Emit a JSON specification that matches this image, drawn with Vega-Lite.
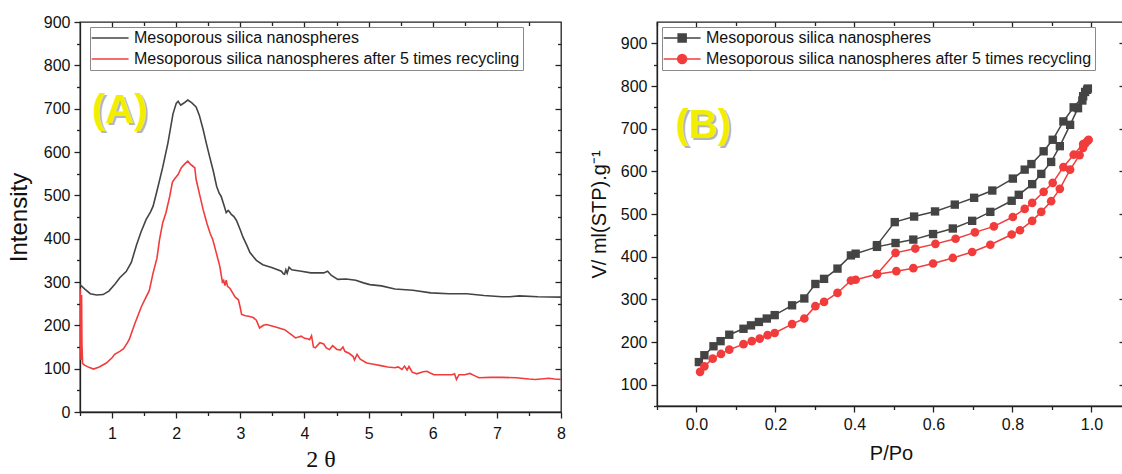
{
  "$schema": "https://vega.github.io/schema/vega-lite/v6.json",
  "padding": {"left": 6, "top": 13, "right": 0, "bottom": 0},
  "background": "white",
  "config": {
    "font": "Liberation Sans",
    "view": {"stroke": "#222", "strokeWidth": 1.3},
    "axis": {"domainColor": "#222", "tickColor": "#222", "labelColor": "#111", "titleColor": "#111", "labelFont": "Liberation Sans", "labelFontSize": 16, "titleFontWeight": "normal", "grid": false, "domainWidth": 1.3, "tickWidth": 1.3, "labelFlush": false, "labelOverlap": false}
  },
  "resolve": {"scale": {"color": "independent"}, "legend": {"color": "independent"}},
  "datasets": {
    "xrd": [
      {"s":"Mesoporous silica nanospheres","t":0.5,"i":294},{"s":"Mesoporous silica nanospheres","t":0.58,"i":283},{"s":"Mesoporous silica nanospheres","t":0.66,"i":273},{"s":"Mesoporous silica nanospheres","t":0.76,"i":270},{"s":"Mesoporous silica nanospheres","t":0.86,"i":271},{"s":"Mesoporous silica nanospheres","t":0.95,"i":279},{"s":"Mesoporous silica nanospheres","t":1.05,"i":296},{"s":"Mesoporous silica nanospheres","t":1.12,"i":310},{"s":"Mesoporous silica nanospheres","t":1.22,"i":324},{"s":"Mesoporous silica nanospheres","t":1.3,"i":345},{"s":"Mesoporous silica nanospheres","t":1.38,"i":385},{"s":"Mesoporous silica nanospheres","t":1.45,"i":415},{"s":"Mesoporous silica nanospheres","t":1.53,"i":444},{"s":"Mesoporous silica nanospheres","t":1.6,"i":462},{"s":"Mesoporous silica nanospheres","t":1.64,"i":475},{"s":"Mesoporous silica nanospheres","t":1.7,"i":510},{"s":"Mesoporous silica nanospheres","t":1.79,"i":565},{"s":"Mesoporous silica nanospheres","t":1.87,"i":620},{"s":"Mesoporous silica nanospheres","t":1.95,"i":688},{"s":"Mesoporous silica nanospheres","t":2.0,"i":712},{"s":"Mesoporous silica nanospheres","t":2.03,"i":717},{"s":"Mesoporous silica nanospheres","t":2.07,"i":708},{"s":"Mesoporous silica nanospheres","t":2.12,"i":713},{"s":"Mesoporous silica nanospheres","t":2.18,"i":720},{"s":"Mesoporous silica nanospheres","t":2.24,"i":714},{"s":"Mesoporous silica nanospheres","t":2.31,"i":704},{"s":"Mesoporous silica nanospheres","t":2.36,"i":685},{"s":"Mesoporous silica nanospheres","t":2.42,"i":652},{"s":"Mesoporous silica nanospheres","t":2.47,"i":620},{"s":"Mesoporous silica nanospheres","t":2.52,"i":590},{"s":"Mesoporous silica nanospheres","t":2.58,"i":555},{"s":"Mesoporous silica nanospheres","t":2.63,"i":521},{"s":"Mesoporous silica nanospheres","t":2.67,"i":505},{"s":"Mesoporous silica nanospheres","t":2.7,"i":498},{"s":"Mesoporous silica nanospheres","t":2.75,"i":475},{"s":"Mesoporous silica nanospheres","t":2.78,"i":460},{"s":"Mesoporous silica nanospheres","t":2.81,"i":465},{"s":"Mesoporous silica nanospheres","t":2.83,"i":462},{"s":"Mesoporous silica nanospheres","t":2.86,"i":456},{"s":"Mesoporous silica nanospheres","t":2.9,"i":451},{"s":"Mesoporous silica nanospheres","t":2.94,"i":442},{"s":"Mesoporous silica nanospheres","t":3.0,"i":420},{"s":"Mesoporous silica nanospheres","t":3.04,"i":404},{"s":"Mesoporous silica nanospheres","t":3.1,"i":385},{"s":"Mesoporous silica nanospheres","t":3.15,"i":368},{"s":"Mesoporous silica nanospheres","t":3.25,"i":350},{"s":"Mesoporous silica nanospheres","t":3.35,"i":340},{"s":"Mesoporous silica nanospheres","t":3.5,"i":333},{"s":"Mesoporous silica nanospheres","t":3.64,"i":325},{"s":"Mesoporous silica nanospheres","t":3.67,"i":319},{"s":"Mesoporous silica nanospheres","t":3.69,"i":318},{"s":"Mesoporous silica nanospheres","t":3.71,"i":328},{"s":"Mesoporous silica nanospheres","t":3.73,"i":320},{"s":"Mesoporous silica nanospheres","t":3.76,"i":334},{"s":"Mesoporous silica nanospheres","t":3.8,"i":328},{"s":"Mesoporous silica nanospheres","t":3.95,"i":325},{"s":"Mesoporous silica nanospheres","t":4.1,"i":321},{"s":"Mesoporous silica nanospheres","t":4.3,"i":321},{"s":"Mesoporous silica nanospheres","t":4.36,"i":325},{"s":"Mesoporous silica nanospheres","t":4.42,"i":315},{"s":"Mesoporous silica nanospheres","t":4.52,"i":306},{"s":"Mesoporous silica nanospheres","t":4.65,"i":307},{"s":"Mesoporous silica nanospheres","t":4.8,"i":304},{"s":"Mesoporous silica nanospheres","t":4.92,"i":298},{"s":"Mesoporous silica nanospheres","t":5.02,"i":294},{"s":"Mesoporous silica nanospheres","t":5.2,"i":291},{"s":"Mesoporous silica nanospheres","t":5.41,"i":284},{"s":"Mesoporous silica nanospheres","t":5.69,"i":281},{"s":"Mesoporous silica nanospheres","t":5.97,"i":275},{"s":"Mesoporous silica nanospheres","t":6.25,"i":273},{"s":"Mesoporous silica nanospheres","t":6.53,"i":273},{"s":"Mesoporous silica nanospheres","t":6.8,"i":269},{"s":"Mesoporous silica nanospheres","t":7.08,"i":266},{"s":"Mesoporous silica nanospheres","t":7.2,"i":266},{"s":"Mesoporous silica nanospheres","t":7.35,"i":268},{"s":"Mesoporous silica nanospheres","t":7.64,"i":266},{"s":"Mesoporous silica nanospheres","t":8.0,"i":265},
      {"s":"Mesoporous silica nanospheres after 5 times recycling","t":0.5,"i":285},{"s":"Mesoporous silica nanospheres after 5 times recycling","t":0.505,"i":265},{"s":"Mesoporous silica nanospheres after 5 times recycling","t":0.51,"i":180},{"s":"Mesoporous silica nanospheres after 5 times recycling","t":0.515,"i":120},{"s":"Mesoporous silica nanospheres after 5 times recycling","t":0.52,"i":200},{"s":"Mesoporous silica nanospheres after 5 times recycling","t":0.525,"i":270},{"s":"Mesoporous silica nanospheres after 5 times recycling","t":0.53,"i":160},{"s":"Mesoporous silica nanospheres after 5 times recycling","t":0.54,"i":112},{"s":"Mesoporous silica nanospheres after 5 times recycling","t":0.57,"i":108},{"s":"Mesoporous silica nanospheres after 5 times recycling","t":0.64,"i":103},{"s":"Mesoporous silica nanospheres after 5 times recycling","t":0.71,"i":99},{"s":"Mesoporous silica nanospheres after 5 times recycling","t":0.8,"i":104},{"s":"Mesoporous silica nanospheres after 5 times recycling","t":0.91,"i":113},{"s":"Mesoporous silica nanospheres after 5 times recycling","t":1.0,"i":125},{"s":"Mesoporous silica nanospheres after 5 times recycling","t":1.04,"i":133},{"s":"Mesoporous silica nanospheres after 5 times recycling","t":1.12,"i":140},{"s":"Mesoporous silica nanospheres after 5 times recycling","t":1.18,"i":146},{"s":"Mesoporous silica nanospheres after 5 times recycling","t":1.24,"i":160},{"s":"Mesoporous silica nanospheres after 5 times recycling","t":1.27,"i":168},{"s":"Mesoporous silica nanospheres after 5 times recycling","t":1.31,"i":185},{"s":"Mesoporous silica nanospheres after 5 times recycling","t":1.35,"i":202},{"s":"Mesoporous silica nanospheres after 5 times recycling","t":1.41,"i":225},{"s":"Mesoporous silica nanospheres after 5 times recycling","t":1.46,"i":244},{"s":"Mesoporous silica nanospheres after 5 times recycling","t":1.52,"i":262},{"s":"Mesoporous silica nanospheres after 5 times recycling","t":1.58,"i":280},{"s":"Mesoporous silica nanospheres after 5 times recycling","t":1.64,"i":321},{"s":"Mesoporous silica nanospheres after 5 times recycling","t":1.7,"i":355},{"s":"Mesoporous silica nanospheres after 5 times recycling","t":1.74,"i":398},{"s":"Mesoporous silica nanospheres after 5 times recycling","t":1.79,"i":437},{"s":"Mesoporous silica nanospheres after 5 times recycling","t":1.84,"i":460},{"s":"Mesoporous silica nanospheres after 5 times recycling","t":1.9,"i":498},{"s":"Mesoporous silica nanospheres after 5 times recycling","t":1.94,"i":530},{"s":"Mesoporous silica nanospheres after 5 times recycling","t":1.97,"i":537},{"s":"Mesoporous silica nanospheres after 5 times recycling","t":2.03,"i":548},{"s":"Mesoporous silica nanospheres after 5 times recycling","t":2.08,"i":564},{"s":"Mesoporous silica nanospheres after 5 times recycling","t":2.13,"i":572},{"s":"Mesoporous silica nanospheres after 5 times recycling","t":2.18,"i":579},{"s":"Mesoporous silica nanospheres after 5 times recycling","t":2.22,"i":572},{"s":"Mesoporous silica nanospheres after 5 times recycling","t":2.27,"i":566},{"s":"Mesoporous silica nanospheres after 5 times recycling","t":2.29,"i":564},{"s":"Mesoporous silica nanospheres after 5 times recycling","t":2.31,"i":537},{"s":"Mesoporous silica nanospheres after 5 times recycling","t":2.36,"i":505},{"s":"Mesoporous silica nanospheres after 5 times recycling","t":2.42,"i":467},{"s":"Mesoporous silica nanospheres after 5 times recycling","t":2.48,"i":435},{"s":"Mesoporous silica nanospheres after 5 times recycling","t":2.53,"i":412},{"s":"Mesoporous silica nanospheres after 5 times recycling","t":2.57,"i":398},{"s":"Mesoporous silica nanospheres after 5 times recycling","t":2.62,"i":370},{"s":"Mesoporous silica nanospheres after 5 times recycling","t":2.68,"i":336},{"s":"Mesoporous silica nanospheres after 5 times recycling","t":2.72,"i":300},{"s":"Mesoporous silica nanospheres after 5 times recycling","t":2.74,"i":304},{"s":"Mesoporous silica nanospheres after 5 times recycling","t":2.76,"i":292},{"s":"Mesoporous silica nanospheres after 5 times recycling","t":2.78,"i":304},{"s":"Mesoporous silica nanospheres after 5 times recycling","t":2.8,"i":290},{"s":"Mesoporous silica nanospheres after 5 times recycling","t":2.84,"i":285},{"s":"Mesoporous silica nanospheres after 5 times recycling","t":2.88,"i":275},{"s":"Mesoporous silica nanospheres after 5 times recycling","t":2.92,"i":265},{"s":"Mesoporous silica nanospheres after 5 times recycling","t":2.97,"i":259},{"s":"Mesoporous silica nanospheres after 5 times recycling","t":3.0,"i":240},{"s":"Mesoporous silica nanospheres after 5 times recycling","t":3.02,"i":225},{"s":"Mesoporous silica nanospheres after 5 times recycling","t":3.08,"i":222},{"s":"Mesoporous silica nanospheres after 5 times recycling","t":3.13,"i":221},{"s":"Mesoporous silica nanospheres after 5 times recycling","t":3.2,"i":218},{"s":"Mesoporous silica nanospheres after 5 times recycling","t":3.25,"i":212},{"s":"Mesoporous silica nanospheres after 5 times recycling","t":3.3,"i":194},{"s":"Mesoporous silica nanospheres after 5 times recycling","t":3.36,"i":200},{"s":"Mesoporous silica nanospheres after 5 times recycling","t":3.41,"i":202},{"s":"Mesoporous silica nanospheres after 5 times recycling","t":3.55,"i":196},{"s":"Mesoporous silica nanospheres after 5 times recycling","t":3.69,"i":190},{"s":"Mesoporous silica nanospheres after 5 times recycling","t":3.8,"i":178},{"s":"Mesoporous silica nanospheres after 5 times recycling","t":3.86,"i":171},{"s":"Mesoporous silica nanospheres after 5 times recycling","t":3.95,"i":175},{"s":"Mesoporous silica nanospheres after 5 times recycling","t":4.0,"i":170},{"s":"Mesoporous silica nanospheres after 5 times recycling","t":4.05,"i":169},{"s":"Mesoporous silica nanospheres after 5 times recycling","t":4.08,"i":167},{"s":"Mesoporous silica nanospheres after 5 times recycling","t":4.11,"i":176},{"s":"Mesoporous silica nanospheres after 5 times recycling","t":4.14,"i":150},{"s":"Mesoporous silica nanospheres after 5 times recycling","t":4.17,"i":148},{"s":"Mesoporous silica nanospheres after 5 times recycling","t":4.24,"i":160},{"s":"Mesoporous silica nanospheres after 5 times recycling","t":4.3,"i":157},{"s":"Mesoporous silica nanospheres after 5 times recycling","t":4.34,"i":148},{"s":"Mesoporous silica nanospheres after 5 times recycling","t":4.39,"i":144},{"s":"Mesoporous silica nanospheres after 5 times recycling","t":4.44,"i":153},{"s":"Mesoporous silica nanospheres after 5 times recycling","t":4.5,"i":145},{"s":"Mesoporous silica nanospheres after 5 times recycling","t":4.56,"i":143},{"s":"Mesoporous silica nanospheres after 5 times recycling","t":4.6,"i":150},{"s":"Mesoporous silica nanospheres after 5 times recycling","t":4.63,"i":140},{"s":"Mesoporous silica nanospheres after 5 times recycling","t":4.7,"i":135},{"s":"Mesoporous silica nanospheres after 5 times recycling","t":4.76,"i":128},{"s":"Mesoporous silica nanospheres after 5 times recycling","t":4.78,"i":120},{"s":"Mesoporous silica nanospheres after 5 times recycling","t":4.82,"i":133},{"s":"Mesoporous silica nanospheres after 5 times recycling","t":4.87,"i":122},{"s":"Mesoporous silica nanospheres after 5 times recycling","t":4.97,"i":113},{"s":"Mesoporous silica nanospheres after 5 times recycling","t":5.08,"i":110},{"s":"Mesoporous silica nanospheres after 5 times recycling","t":5.19,"i":107},{"s":"Mesoporous silica nanospheres after 5 times recycling","t":5.3,"i":104},{"s":"Mesoporous silica nanospheres after 5 times recycling","t":5.41,"i":102},{"s":"Mesoporous silica nanospheres after 5 times recycling","t":5.46,"i":104},{"s":"Mesoporous silica nanospheres after 5 times recycling","t":5.52,"i":98},{"s":"Mesoporous silica nanospheres after 5 times recycling","t":5.56,"i":106},{"s":"Mesoporous silica nanospheres after 5 times recycling","t":5.6,"i":97},{"s":"Mesoporous silica nanospheres after 5 times recycling","t":5.63,"i":105},{"s":"Mesoporous silica nanospheres after 5 times recycling","t":5.68,"i":92},{"s":"Mesoporous silica nanospheres after 5 times recycling","t":5.75,"i":88},{"s":"Mesoporous silica nanospheres after 5 times recycling","t":5.85,"i":93},{"s":"Mesoporous silica nanospheres after 5 times recycling","t":5.91,"i":94},{"s":"Mesoporous silica nanospheres after 5 times recycling","t":5.96,"i":90},{"s":"Mesoporous silica nanospheres after 5 times recycling","t":6.02,"i":86},{"s":"Mesoporous silica nanospheres after 5 times recycling","t":6.15,"i":86},{"s":"Mesoporous silica nanospheres after 5 times recycling","t":6.3,"i":86},{"s":"Mesoporous silica nanospheres after 5 times recycling","t":6.34,"i":88},{"s":"Mesoporous silica nanospheres after 5 times recycling","t":6.37,"i":75},{"s":"Mesoporous silica nanospheres after 5 times recycling","t":6.41,"i":86},{"s":"Mesoporous silica nanospheres after 5 times recycling","t":6.5,"i":86},{"s":"Mesoporous silica nanospheres after 5 times recycling","t":6.58,"i":89},{"s":"Mesoporous silica nanospheres after 5 times recycling","t":6.65,"i":84},{"s":"Mesoporous silica nanospheres after 5 times recycling","t":6.72,"i":79},{"s":"Mesoporous silica nanospheres after 5 times recycling","t":6.9,"i":80},{"s":"Mesoporous silica nanospheres after 5 times recycling","t":7.08,"i":80},{"s":"Mesoporous silica nanospheres after 5 times recycling","t":7.3,"i":79},{"s":"Mesoporous silica nanospheres after 5 times recycling","t":7.5,"i":76},{"s":"Mesoporous silica nanospheres after 5 times recycling","t":7.6,"i":75},{"s":"Mesoporous silica nanospheres after 5 times recycling","t":7.81,"i":78},{"s":"Mesoporous silica nanospheres after 5 times recycling","t":7.9,"i":76},{"s":"Mesoporous silica nanospheres after 5 times recycling","t":8.0,"i":75}
    ],
    "bet": [
      {"s":"Mesoporous silica nanospheres","k":1,"p":0.006,"v":153},{"s":"Mesoporous silica nanospheres","k":2,"p":0.02,"v":169},{"s":"Mesoporous silica nanospheres","k":3,"p":0.043,"v":190},{"s":"Mesoporous silica nanospheres","k":4,"p":0.061,"v":202},{"s":"Mesoporous silica nanospheres","k":5,"p":0.083,"v":217},{"s":"Mesoporous silica nanospheres","k":6,"p":0.119,"v":231},{"s":"Mesoporous silica nanospheres","k":7,"p":0.138,"v":239},{"s":"Mesoporous silica nanospheres","k":8,"p":0.158,"v":247},{"s":"Mesoporous silica nanospheres","k":9,"p":0.178,"v":255},{"s":"Mesoporous silica nanospheres","k":10,"p":0.198,"v":263},{"s":"Mesoporous silica nanospheres","k":11,"p":0.242,"v":286},{"s":"Mesoporous silica nanospheres","k":12,"p":0.273,"v":302},{"s":"Mesoporous silica nanospheres","k":13,"p":0.301,"v":336},{"s":"Mesoporous silica nanospheres","k":14,"p":0.323,"v":348},{"s":"Mesoporous silica nanospheres","k":15,"p":0.357,"v":372},{"s":"Mesoporous silica nanospheres","k":16,"p":0.391,"v":403},{"s":"Mesoporous silica nanospheres","k":17,"p":0.403,"v":407},{"s":"Mesoporous silica nanospheres","k":18,"p":0.457,"v":423},{"s":"Mesoporous silica nanospheres","k":19,"p":0.504,"v":432},{"s":"Mesoporous silica nanospheres","k":20,"p":0.549,"v":440},{"s":"Mesoporous silica nanospheres","k":21,"p":0.599,"v":453},{"s":"Mesoporous silica nanospheres","k":22,"p":0.649,"v":466},{"s":"Mesoporous silica nanospheres","k":23,"p":0.698,"v":484},{"s":"Mesoporous silica nanospheres","k":24,"p":0.744,"v":505},{"s":"Mesoporous silica nanospheres","k":25,"p":0.798,"v":531},{"s":"Mesoporous silica nanospheres","k":26,"p":0.816,"v":545},{"s":"Mesoporous silica nanospheres","k":27,"p":0.85,"v":570},{"s":"Mesoporous silica nanospheres","k":28,"p":0.873,"v":594},{"s":"Mesoporous silica nanospheres","k":29,"p":0.898,"v":622},{"s":"Mesoporous silica nanospheres","k":30,"p":0.92,"v":659},{"s":"Mesoporous silica nanospheres","k":31,"p":0.946,"v":709},{"s":"Mesoporous silica nanospheres","k":32,"p":0.966,"v":748},{"s":"Mesoporous silica nanospheres","k":33,"p":0.977,"v":766},{"s":"Mesoporous silica nanospheres","k":34,"p":0.984,"v":786},{"s":"Mesoporous silica nanospheres","k":35,"p":0.989,"v":791},{"s":"Mesoporous silica nanospheres","k":36,"p":0.991,"v":794},{"s":"Mesoporous silica nanospheres","k":37,"p":0.979,"v":776},{"s":"Mesoporous silica nanospheres","k":38,"p":0.955,"v":750},{"s":"Mesoporous silica nanospheres","k":39,"p":0.929,"v":717},{"s":"Mesoporous silica nanospheres","k":40,"p":0.902,"v":674},{"s":"Mesoporous silica nanospheres","k":41,"p":0.879,"v":647},{"s":"Mesoporous silica nanospheres","k":42,"p":0.848,"v":617},{"s":"Mesoporous silica nanospheres","k":43,"p":0.831,"v":604},{"s":"Mesoporous silica nanospheres","k":44,"p":0.801,"v":583},{"s":"Mesoporous silica nanospheres","k":45,"p":0.749,"v":555},{"s":"Mesoporous silica nanospheres","k":46,"p":0.703,"v":538},{"s":"Mesoporous silica nanospheres","k":47,"p":0.654,"v":522},{"s":"Mesoporous silica nanospheres","k":48,"p":0.604,"v":506},{"s":"Mesoporous silica nanospheres","k":49,"p":0.551,"v":494},{"s":"Mesoporous silica nanospheres","k":50,"p":0.502,"v":481},{"s":"Mesoporous silica nanospheres","k":51,"p":0.457,"v":427},
      {"s":"Mesoporous silica nanospheres after 5 times recycling","k":1,"p":0.009,"v":130},{"s":"Mesoporous silica nanospheres after 5 times recycling","k":2,"p":0.02,"v":143},{"s":"Mesoporous silica nanospheres after 5 times recycling","k":3,"p":0.041,"v":161},{"s":"Mesoporous silica nanospheres after 5 times recycling","k":4,"p":0.062,"v":172},{"s":"Mesoporous silica nanospheres after 5 times recycling","k":5,"p":0.083,"v":182},{"s":"Mesoporous silica nanospheres after 5 times recycling","k":6,"p":0.119,"v":195},{"s":"Mesoporous silica nanospheres after 5 times recycling","k":7,"p":0.14,"v":202},{"s":"Mesoporous silica nanospheres after 5 times recycling","k":8,"p":0.16,"v":208},{"s":"Mesoporous silica nanospheres after 5 times recycling","k":9,"p":0.18,"v":216},{"s":"Mesoporous silica nanospheres after 5 times recycling","k":10,"p":0.198,"v":221},{"s":"Mesoporous silica nanospheres after 5 times recycling","k":11,"p":0.242,"v":242},{"s":"Mesoporous silica nanospheres after 5 times recycling","k":12,"p":0.273,"v":255},{"s":"Mesoporous silica nanospheres after 5 times recycling","k":13,"p":0.301,"v":284},{"s":"Mesoporous silica nanospheres after 5 times recycling","k":14,"p":0.323,"v":294},{"s":"Mesoporous silica nanospheres after 5 times recycling","k":15,"p":0.357,"v":315},{"s":"Mesoporous silica nanospheres after 5 times recycling","k":16,"p":0.391,"v":344},{"s":"Mesoporous silica nanospheres after 5 times recycling","k":17,"p":0.403,"v":346},{"s":"Mesoporous silica nanospheres after 5 times recycling","k":18,"p":0.457,"v":359},{"s":"Mesoporous silica nanospheres after 5 times recycling","k":19,"p":0.506,"v":366},{"s":"Mesoporous silica nanospheres after 5 times recycling","k":20,"p":0.549,"v":373},{"s":"Mesoporous silica nanospheres after 5 times recycling","k":21,"p":0.599,"v":384},{"s":"Mesoporous silica nanospheres after 5 times recycling","k":22,"p":0.649,"v":397},{"s":"Mesoporous silica nanospheres after 5 times recycling","k":23,"p":0.698,"v":411},{"s":"Mesoporous silica nanospheres after 5 times recycling","k":24,"p":0.744,"v":428},{"s":"Mesoporous silica nanospheres after 5 times recycling","k":25,"p":0.798,"v":452},{"s":"Mesoporous silica nanospheres after 5 times recycling","k":26,"p":0.819,"v":462},{"s":"Mesoporous silica nanospheres after 5 times recycling","k":27,"p":0.85,"v":484},{"s":"Mesoporous silica nanospheres after 5 times recycling","k":28,"p":0.873,"v":505},{"s":"Mesoporous silica nanospheres after 5 times recycling","k":29,"p":0.898,"v":530},{"s":"Mesoporous silica nanospheres after 5 times recycling","k":30,"p":0.92,"v":559},{"s":"Mesoporous silica nanospheres after 5 times recycling","k":31,"p":0.946,"v":604},{"s":"Mesoporous silica nanospheres after 5 times recycling","k":32,"p":0.97,"v":638},{"s":"Mesoporous silica nanospheres after 5 times recycling","k":33,"p":0.979,"v":655},{"s":"Mesoporous silica nanospheres after 5 times recycling","k":34,"p":0.985,"v":666},{"s":"Mesoporous silica nanospheres after 5 times recycling","k":35,"p":0.991,"v":672},{"s":"Mesoporous silica nanospheres after 5 times recycling","k":36,"p":0.993,"v":674},{"s":"Mesoporous silica nanospheres after 5 times recycling","k":37,"p":0.979,"v":664},{"s":"Mesoporous silica nanospheres after 5 times recycling","k":38,"p":0.955,"v":639},{"s":"Mesoporous silica nanospheres after 5 times recycling","k":39,"p":0.929,"v":610},{"s":"Mesoporous silica nanospheres after 5 times recycling","k":40,"p":0.902,"v":573},{"s":"Mesoporous silica nanospheres after 5 times recycling","k":41,"p":0.879,"v":552},{"s":"Mesoporous silica nanospheres after 5 times recycling","k":42,"p":0.85,"v":526},{"s":"Mesoporous silica nanospheres after 5 times recycling","k":43,"p":0.831,"v":512},{"s":"Mesoporous silica nanospheres after 5 times recycling","k":44,"p":0.801,"v":493},{"s":"Mesoporous silica nanospheres after 5 times recycling","k":45,"p":0.753,"v":471},{"s":"Mesoporous silica nanospheres after 5 times recycling","k":46,"p":0.705,"v":457},{"s":"Mesoporous silica nanospheres after 5 times recycling","k":47,"p":0.656,"v":442},{"s":"Mesoporous silica nanospheres after 5 times recycling","k":48,"p":0.605,"v":430},{"s":"Mesoporous silica nanospheres after 5 times recycling","k":49,"p":0.554,"v":419},{"s":"Mesoporous silica nanospheres after 5 times recycling","k":50,"p":0.504,"v":409},{"s":"Mesoporous silica nanospheres after 5 times recycling","k":51,"p":0.457,"v":359}
    ],
    "lblA": [{"x": 1.12, "y": 694, "label": "(A)"}],
    "lblB": [{"x": 0.017, "y": 707, "label": "(B)"}]
  },
  "hconcat": [
    {
      "width": 481,
      "height": 390,
      "resolve": {"axis": {"x": "independent", "y": "independent"}},
      "layer": [
        {
          "data": {"name": "xrd"},
          "mark": {"type": "line", "strokeWidth": 1.6, "clip": true},
          "encoding": {
            "x": {"field": "t", "type": "quantitative", "scale": {"domain": [0.5, 8], "nice": false, "zero": false},
              "axis": {"orient": "bottom", "values": [1,2,3,4,5,6,7,8], "format": "d", "tickSize": 6, "labelPadding": 7, "title": "2 θ", "titleFont": "Liberation Serif", "titleFontSize": 24, "titlePadding": 6}},
            "y": {"field": "i", "type": "quantitative", "scale": {"domain": [0, 900], "nice": false},
              "axis": {"orient": "left", "values": [0,100,200,300,400,500,600,700,800,900], "tickSize": 6, "labelPadding": 4, "title": "Intensity", "titleFontSize": 24, "titlePadding": 12}},
            "color": {"field": "s", "type": "nominal", "scale": {"domain": ["Mesoporous silica nanospheres", "Mesoporous silica nanospheres after 5 times recycling"], "range": ["#444444", "#f23c3c"]},
              "legend": {"orient": "none", "legendX": 10, "legendY": 5, "title": null, "strokeColor": "#8a8a8a", "fillColor": "white", "padding": 3, "symbolType": "M-1.55,0L4.6,0", "symbolSize": 144, "symbolStrokeWidth": 1.6, "labelFontSize": 16, "labelColor": "#111", "labelOffset": 25, "rowPadding": 5, "labelLimit": 0}}
          }
        },
        {
          "data": {"name": "xrd"},
          "mark": {"type": "line", "opacity": 0},
          "encoding": {
            "x": {"field": "t", "type": "quantitative", "axis": {"orient": "bottom", "values": [0.5,1.5,2.5,3.5,4.5,5.5,6.5,7.5], "labels": false, "domain": false, "title": null, "tickSize": 3.5}},
            "y": {"field": "i", "type": "quantitative", "axis": {"orient": "left", "values": [50,150,250,350,450,550,650,750,850], "labels": false, "domain": false, "title": null, "tickSize": 3.5}}
          }
        },
        {
          "data": {"name": "xrd"},
          "mark": {"type": "line", "opacity": 0},
          "encoding": {
            "x": {"field": "t", "type": "quantitative", "axis": {"orient": "top", "offset": -6, "values": [1,2,3,4,5,6,7], "labels": false, "domain": false, "title": null, "tickSize": 6}},
            "y": {"field": "i", "type": "quantitative", "axis": {"orient": "right", "offset": -6, "values": [100,200,300,400,500,600,700,800], "labels": false, "domain": false, "title": null, "tickSize": 6}}
          }
        },
        {
          "data": {"name": "xrd"},
          "mark": {"type": "line", "opacity": 0},
          "encoding": {
            "x": {"field": "t", "type": "quantitative", "axis": {"orient": "top", "offset": -3.5, "values": [1.5,2.5,3.5,4.5,5.5,6.5,7.5], "labels": false, "domain": false, "title": null, "tickSize": 3.5}},
            "y": {"field": "i", "type": "quantitative", "axis": {"orient": "right", "offset": -3.5, "values": [50,150,250,350,450,550,650,750,850], "labels": false, "domain": false, "title": null, "tickSize": 3.5}}
          }
        },
        {
          "data": {"name": "lblA"},
          "mark": {"type": "text", "font": "Liberation Sans", "fontSize": 40, "fontWeight": "bold", "color": "#b5b5b5", "dx": 2, "dy": 2, "baseline": "middle", "align": "center"},
          "encoding": {"x": {"field": "x", "type": "quantitative", "axis": null}, "y": {"field": "y", "type": "quantitative", "axis": null}, "text": {"field": "label"}}
        },
        {
          "data": {"name": "lblA"},
          "mark": {"type": "text", "font": "Liberation Sans", "fontSize": 40, "fontWeight": "bold", "color": "#f2ee00", "baseline": "middle", "align": "center"},
          "encoding": {"x": {"field": "x", "type": "quantitative", "axis": null}, "y": {"field": "y", "type": "quantitative", "axis": null}, "text": {"field": "label"}}
        }
      ]
    },
    {
      "width": 468,
      "height": 384,
      "resolve": {"axis": {"x": "independent", "y": "independent"}},
      "layer": [
        {
          "data": {"name": "bet"},
          "mark": {"type": "line", "strokeWidth": 1.5},
          "encoding": {
            "x": {"field": "p", "type": "quantitative", "scale": {"domain": [-0.1, 1.085], "nice": false, "zero": false},
              "axis": {"orient": "bottom", "values": [0,0.2,0.4,0.6,0.8,1.0], "format": ".1f", "tickSize": 6, "labelPadding": 4, "title": "P/Po", "titleFontSize": 20, "titlePadding": 11}},
            "y": {"field": "v", "type": "quantitative", "scale": {"domain": [50, 950], "nice": false, "zero": false},
              "axis": {"orient": "left", "values": [100,200,300,400,500,600,700,800,900], "tickSize": 6, "labelPadding": 4, "title": "V/ ml(STP).g⁻¹", "titleFontSize": 20, "titlePadding": 11}},
            "color": {"field": "s", "type": "nominal", "scale": {"domain": ["Mesoporous silica nanospheres", "Mesoporous silica nanospheres after 5 times recycling"], "range": ["#444444", "#f23c3c"]},
              "legend": {"orient": "none", "legendX": 5, "legendY": 5, "title": null, "strokeColor": "#8a8a8a", "fillColor": "white", "padding": 3, "symbolType": "M-1.55,0L4.6,0", "symbolSize": 144, "symbolStrokeWidth": 1.5, "labelFontSize": 16, "labelColor": "#111", "labelOffset": 25, "rowPadding": 5, "labelLimit": 0,
                "encode": {"symbols": {"update": {
                  "shape": {"signal": "datum.value === 'Mesoporous silica nanospheres' ? 'M-1.55,0L4.6,0M0.86,-0.67L2.19,-0.67L2.19,0.67L0.86,0.67Z' : 'M-1.55,0L4.6,0M0.775,0A0.75,0.75,0,1,0,2.275,0A0.75,0.75,0,1,0,0.775,0Z'"},
                  "fill": {"signal": "datum.value === 'Mesoporous silica nanospheres' ? '#444444' : '#f23c3c'"},
                  "fillOpacity": {"value": 1}
                }}}}},
            "order": {"field": "k", "type": "quantitative"}
          }
        },
        {
          "data": {"name": "bet"},
          "transform": [{"filter": "datum.s === 'Mesoporous silica nanospheres'"}],
          "mark": {"type": "point", "shape": "square", "filled": true, "size": 70, "opacity": 1, "color": "#444444"},
          "encoding": {
            "x": {"field": "p", "type": "quantitative", "axis": null},
            "y": {"field": "v", "type": "quantitative", "axis": null}
          }
        },
        {
          "data": {"name": "bet"},
          "transform": [{"filter": "datum.s === 'Mesoporous silica nanospheres after 5 times recycling'"}],
          "mark": {"type": "point", "shape": "circle", "filled": true, "size": 75, "opacity": 1, "color": "#f23c3c"},
          "encoding": {
            "x": {"field": "p", "type": "quantitative", "axis": null},
            "y": {"field": "v", "type": "quantitative", "axis": null}
          }
        },
        {
          "data": {"name": "bet"},
          "mark": {"type": "line", "opacity": 0},
          "encoding": {
            "x": {"field": "p", "type": "quantitative", "axis": {"orient": "bottom", "values": [-0.1,0.1,0.3,0.5,0.7,0.9], "labels": false, "domain": false, "title": null, "tickSize": 3.5}},
            "y": {"field": "v", "type": "quantitative", "axis": {"orient": "left", "values": [50,150,250,350,450,550,650,750,850], "labels": false, "domain": false, "title": null, "tickSize": 3.5}}
          }
        },
        {
          "data": {"name": "bet"},
          "mark": {"type": "line", "opacity": 0},
          "encoding": {
            "x": {"field": "p", "type": "quantitative", "axis": {"orient": "top", "offset": -6, "values": [0,0.2,0.4,0.6,0.8,1.0], "labels": false, "domain": false, "title": null, "tickSize": 6}},
            "y": {"field": "v", "type": "quantitative", "axis": {"orient": "right", "offset": -6, "values": [100,200,300,400,500,600,700,800,900], "labels": false, "domain": false, "title": null, "tickSize": 6}}
          }
        },
        {
          "data": {"name": "bet"},
          "mark": {"type": "line", "opacity": 0},
          "encoding": {
            "x": {"field": "p", "type": "quantitative", "axis": {"orient": "top", "offset": -3.5, "values": [-0.1,0.1,0.3,0.5,0.7,0.9], "labels": false, "domain": false, "title": null, "tickSize": 3.5}},
            "y": {"field": "v", "type": "quantitative", "axis": {"orient": "right", "offset": -3.5, "values": [150,250,350,450,550,650,750,850], "labels": false, "domain": false, "title": null, "tickSize": 3.5}}
          }
        },
        {
          "data": {"name": "lblB"},
          "mark": {"type": "text", "font": "Liberation Sans", "fontSize": 40, "fontWeight": "bold", "color": "#b5b5b5", "dx": 2, "dy": 2, "baseline": "middle", "align": "center"},
          "encoding": {"x": {"field": "x", "type": "quantitative", "axis": null}, "y": {"field": "y", "type": "quantitative", "axis": null}, "text": {"field": "label"}}
        },
        {
          "data": {"name": "lblB"},
          "mark": {"type": "text", "font": "Liberation Sans", "fontSize": 40, "fontWeight": "bold", "color": "#f2ee00", "baseline": "middle", "align": "center"},
          "encoding": {"x": {"field": "x", "type": "quantitative", "axis": null}, "y": {"field": "y", "type": "quantitative", "axis": null}, "text": {"field": "label"}}
        }
      ]
    }
  ],
  "spacing": 96,
  "bounds": "flush"
}
